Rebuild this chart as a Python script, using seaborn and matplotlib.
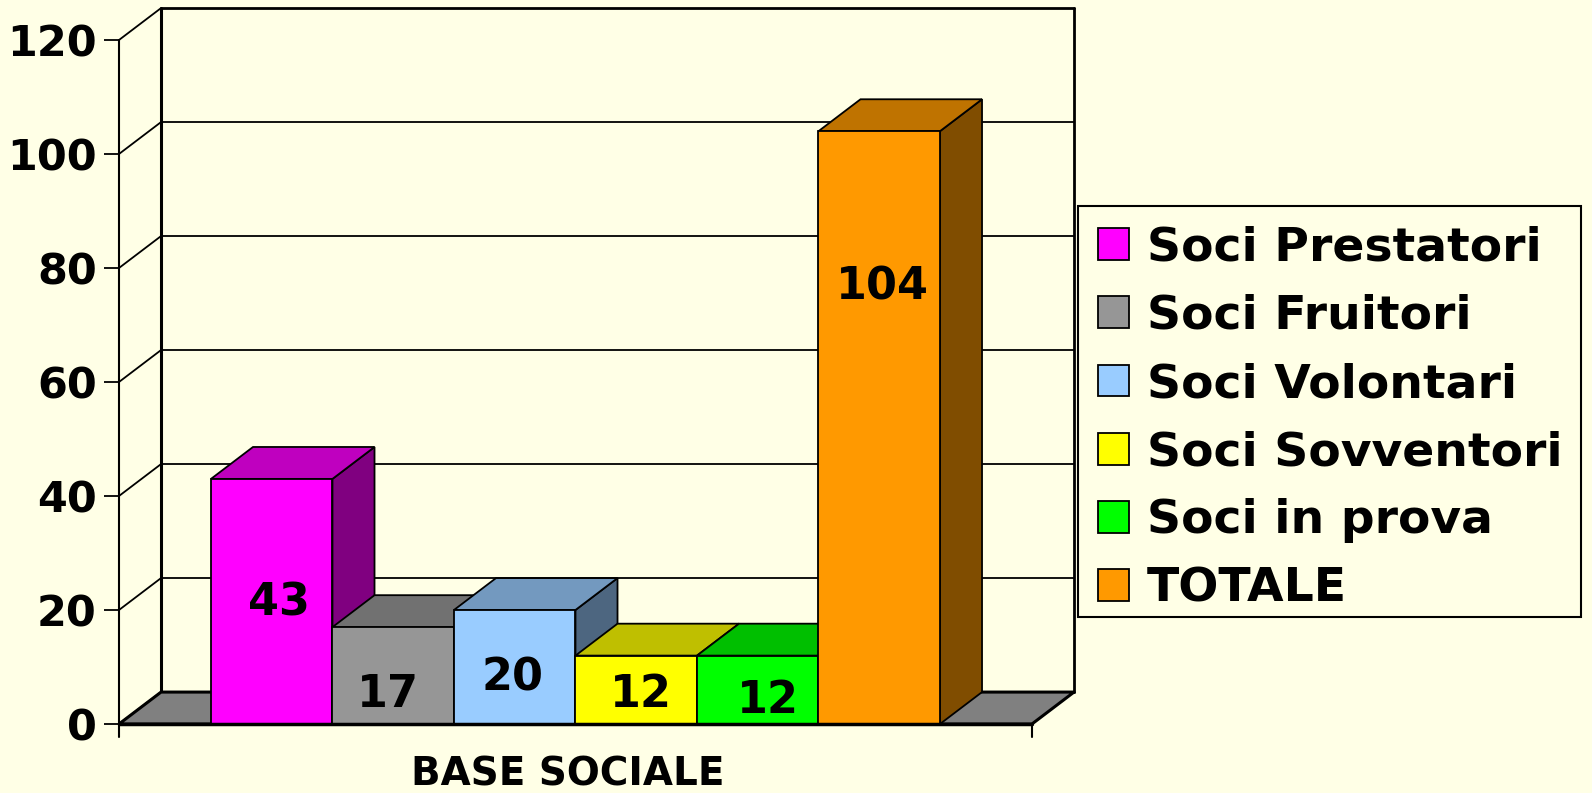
import numpy as np
import pandas as pd
import matplotlib
matplotlib.use("Agg")
import matplotlib.pyplot as plt
import matplotlib.colors as mcolors
from matplotlib.patches import Polygon, Patch, Rectangle
import seaborn as sns

# ---- data ----
series = ["Soci Prestatori", "Soci Fruitori", "Soci Volontari",
          "Soci Sovventori", "Soci in prova", "TOTALE"]
values = [43, 17, 20, 12, 12, 104]
category = "BASE SOCIALE"
yticks = [0, 20, 40, 60, 80, 100, 120]

# ---- style ----
colors = ["#FF00FF", "#969696", "#99CCFF", "#FFFF00", "#00FF00", "#FF9900"]
bg = "#FFFFE6"
label_y = [21.2, 5.1, 8.0, 5.1, 4.2, 76.7]      # label heights (layout)
label_dx = [0.06, -0.04, -0.02, 0.04, 0.08, 0.03]

sns.set_theme(style="white")
plt.rcParams["font.family"] = ["DejaVu Sans"]
plt.rcParams["font.weight"] = "bold"
plt.rcParams["text.color"] = "black"
plt.rcParams["axes.labelcolor"] = "black"
plt.rcParams["ytick.color"] = "black"
plt.rcParams["xtick.color"] = "black"

fig = plt.figure(figsize=(15.92, 7.93), dpi=100)
fig.patch.set_facecolor(bg)
W, H = 1592, 793
ax = fig.add_axes([119 / W, (H - 724) / H, (1074 - 119) / W, (724 - 7.5) / H])
ax.set_facecolor(bg)

DX = 0.346   # depth in x units
DY = 5.6     # depth in value units
x0, x1 = -1.257, 6.257   # front floor extent

df = pd.DataFrame({"serie": series, "val": values})
sns.barplot(data=df, x="serie", y="val", hue="serie", palette=colors,
            saturation=1, width=1.0, errorbar=None, legend=False, ax=ax,
            edgecolor="black", linewidth=1.3)

ax.set_xlim(x0, x1 + DX)
ax.set_ylim(0, 125.7)

# floor
floor = Polygon([(x0, 0), (x1, 0), (x1 + DX, DY), (x0 + DX, DY)], closed=True,
                facecolor="#808080", edgecolor="black", lw=2.2, zorder=1)
ax.add_patch(floor)

# back wall gridlines and left wall diagonals
for v in yticks:
    ax.plot([x0 + DX, x1 + DX], [v + DY, v + DY], color="black",
            lw=1.3 if v not in (0, 120) else 2.0, zorder=0.8, clip_on=False)
    ax.plot([x0, x0 + DX], [v, v + DY], color="black", lw=1.3, zorder=0.8,
            clip_on=False)
ax.plot([x0 + DX, x0 + DX], [DY, 120 + DY], color="black", lw=2.2, zorder=0.8, clip_on=False)
ax.plot([x1 + DX, x1 + DX], [DY, 120 + DY], color="black", lw=2.0, zorder=0.8, clip_on=False)
# front axis line and front floor edge
ax.plot([x0, x0], [-2.3, 120], color="black", lw=1.5, zorder=20, clip_on=False)
ax.plot([x0, x1], [0, 0], color="black", lw=2.5, zorder=20, clip_on=False)
ax.plot([x1, x1], [0, -2.2], color="black", lw=1.5, zorder=20, clip_on=False)

# 3D extrusion of bars
def shade(c, f):
    r, g, b = mcolors.to_rgb(c)
    return (r * f, g * f, b * f)

bars = [p for p in ax.patches if p is not floor]
for i, p in enumerate(bars):
    xl = p.get_x()
    w = p.get_width()
    h = p.get_height()
    xr = xl + w
    c = colors[i]
    side = Polygon([(xr, 0), (xr + DX, DY), (xr + DX, h + DY), (xr, h)], closed=True,
                   facecolor=shade(c, 0.5), edgecolor="black", lw=1.3, zorder=2 + 2 * i)
    top = Polygon([(xl, h), (xr, h), (xr + DX, h + DY), (xl + DX, h + DY)], closed=True,
                  facecolor=shade(c, 0.75), edgecolor="black", lw=1.3, zorder=2 + 2 * i)
    ax.add_patch(side)
    ax.add_patch(top)
    p.set_zorder(3 + 2 * i)
    ax.text(xl + w / 2 + label_dx[i], label_y[i], str(values[i]), ha="center", va="center",
            fontsize=32, fontweight="bold", color="black", zorder=30)

# axes styling
for s in ax.spines.values():
    s.set_visible(False)
ax.set_xticks([])
ax.set_xlabel("")
ax.set_ylabel("")
ax.set_yticks(yticks)
ax.set_yticklabels([str(v) for v in yticks])
ax.tick_params(axis="y", left=True, length=11, width=1.3, pad=5, labelsize=31,
               colors="black", direction="out")
for t in ax.get_yticklabels():
    t.set_fontweight("bold")
ax.grid(False)

ax.text((x0 + x1) / 2 - 0.06, -8.8, category, ha="center", va="center",
        fontsize=28, fontweight="bold", color="black", clip_on=False)

# legend (frame drawn separately)
fig.patches.append(Rectangle((1078 / W, (H - 617) / H), (1581 - 1078) / W, (617 - 206) / H,
                             transform=fig.transFigure, facecolor=bg, edgecolor="black",
                             lw=1.5, zorder=0))
handles = [Patch(facecolor=c, edgecolor="black", lw=1.3, label=s) for s, c in zip(series, colors)]
leg = fig.legend(handles=handles, loc="upper left",
                 bbox_to_anchor=(1078 / W, (H - 206) / H),
                 prop={"weight": "bold", "size": 34},
                 handlelength=0.66, handleheight=0.66, handletextpad=0.38,
                 labelspacing=0.49, borderpad=0.42, borderaxespad=0,
                 frameon=False)
for t in leg.get_texts():
    t.set_color("black")

fig.savefig("out.png", dpi=100, facecolor=bg)
